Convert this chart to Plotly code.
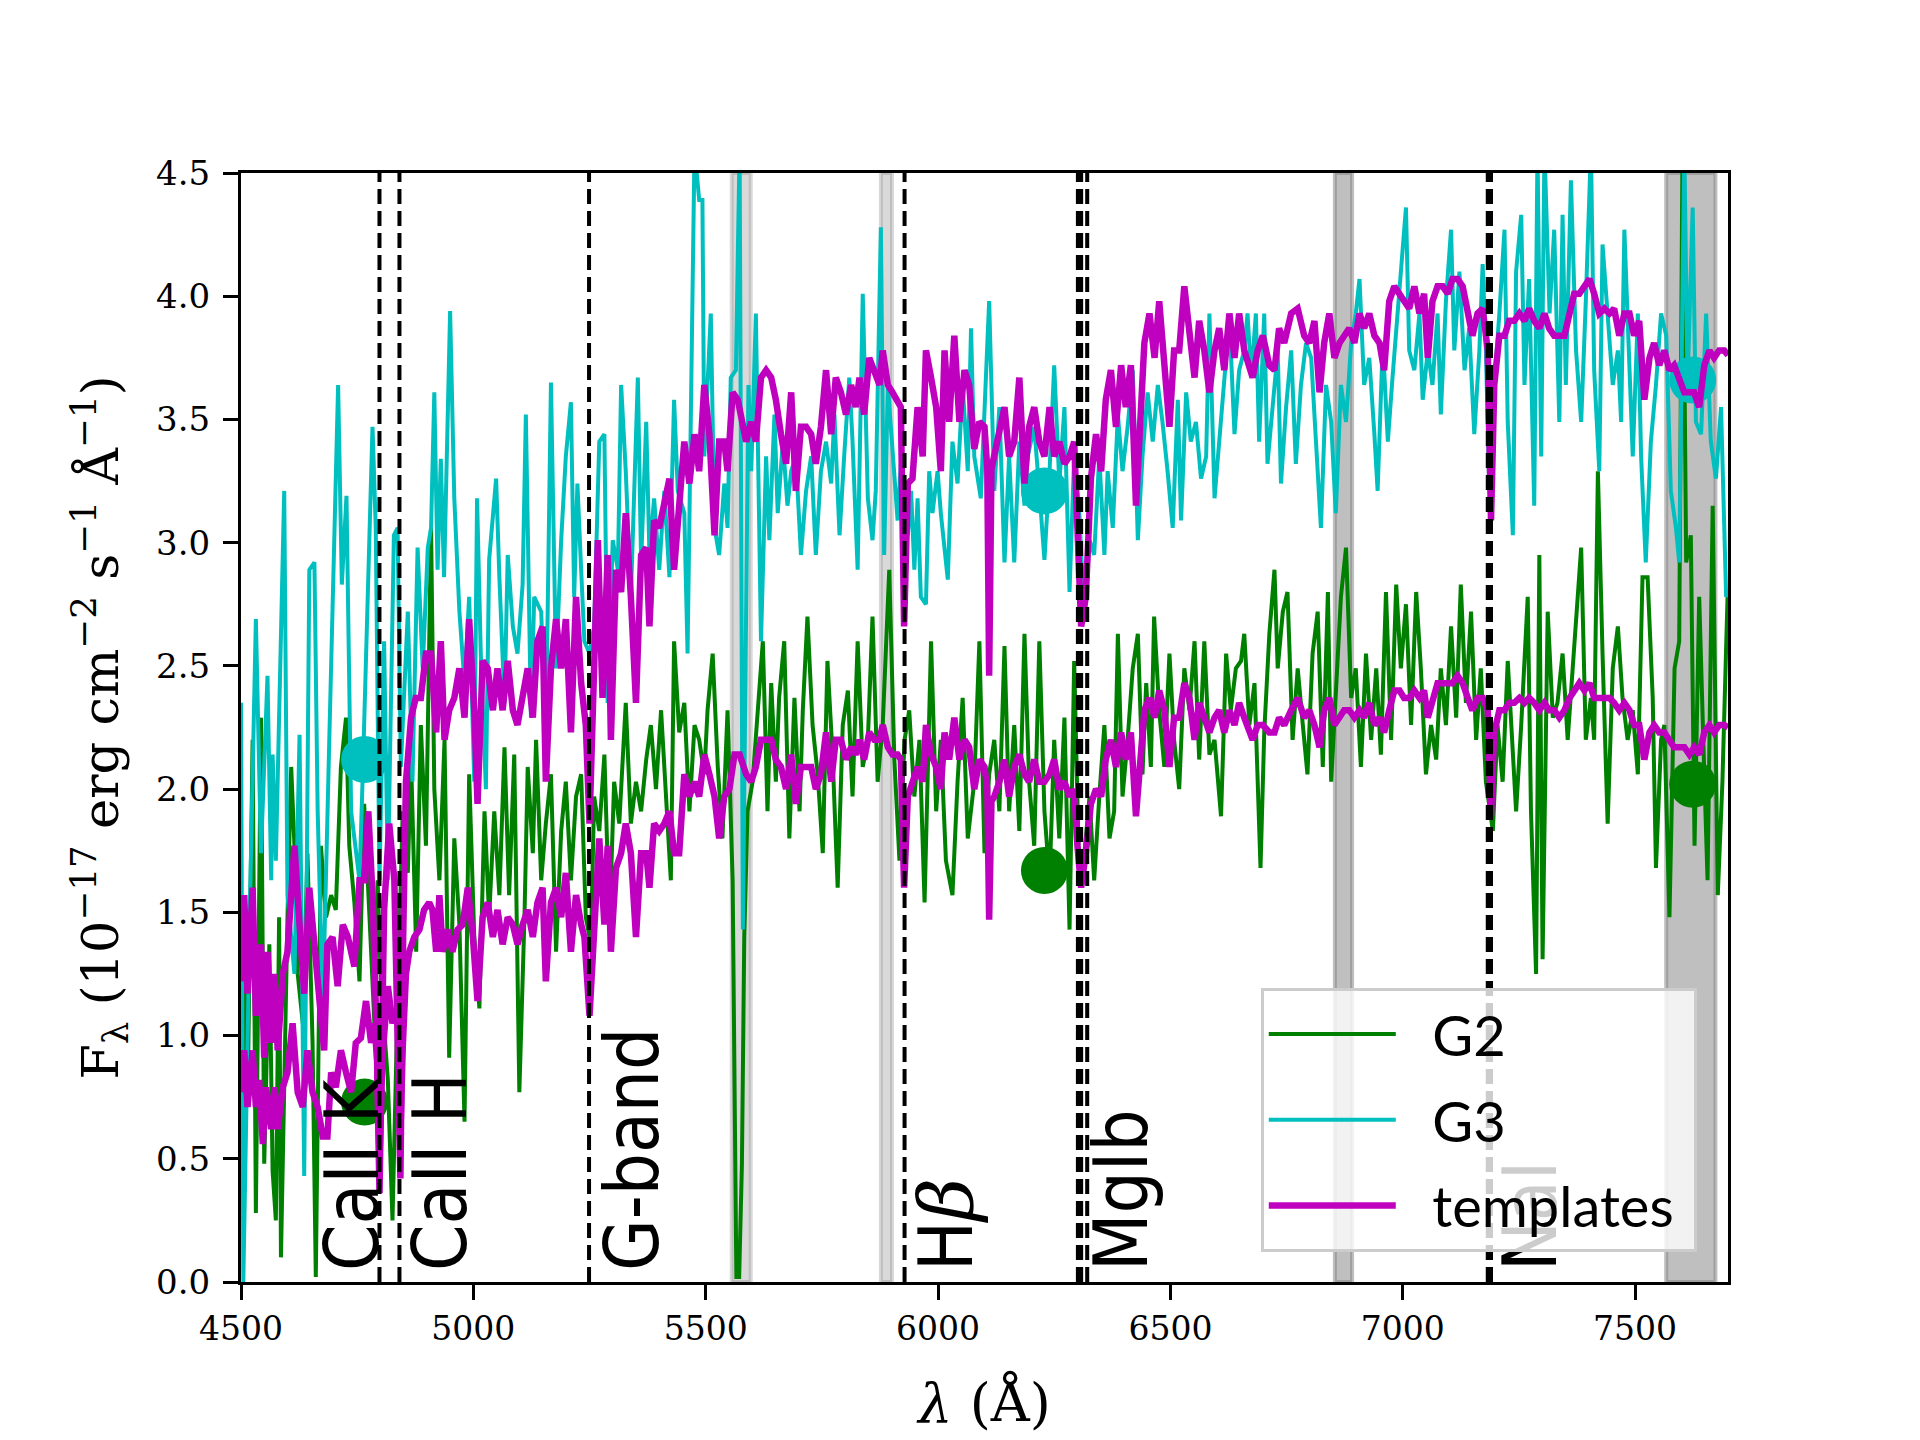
import plotly.graph_objects as go

# ---------------- data ----------------
# observed spectrum of G2: (wavelength [A], flux)
g2_obs = [(4500,0.54),(4507,1.3),(4514,0.71),(4525,2.2),(4532,0.28),(4543,2.29),(4550,0.48),(4561,1.37),(4568,0.45),(4575,0.25),
(4582,1.48),(4586,0.1),(4600,1.48),(4608,2.09),(4615,1.77),(4622,1.25),(4633,1.05),(4643,1.74),(4654,0.97),(4661,0.02),
(4672,1.77),(4683,1.48),(4694,1.57),(4704,1.51),(4715,2.09),(4726,2.29),(4733,1.77),(4744,1.54),(4755,1.22),(4765,1.94),
(4780,1.34),(4787,1.05),(4794,1.63),(4801,1.22),(4816,0.82),(4826,0.25),(4837,1.14),(4848,1.91),(4859,1.66),(4866,2.12),
(4877,1.34),(4887,2.26),(4898,1.77),(4909,3.06),(4916,2.0),(4927,1.63),(4938,2.2),(4948,0.91),(4959,1.8),(4970,1.45),
(4981,0.65),(4991,2.06),(5002,1.4),(5013,1.11),(5024,1.91),(5034,1.48),(5045,1.91),(5056,1.57),(5067,2.17),(5077,1.57),
(5088,2.14),(5099,0.77),(5110,1.48),(5117,2.09),(5128,1.74),(5135,2.2),(5146,1.63),(5156,1.86),(5167,2.06),(5178,1.34),
(5189,1.83),(5199,2.03),(5210,1.63),(5221,1.97),(5232,2.06),(5242,1.48),(5253,1.37),(5260,1.97),(5271,1.83),(5282,2.14),
(5293,1.45),(5303,2.03),(5314,1.86),(5328,2.35),(5339,1.86),(5350,2.03),(5361,1.91),(5372,2.12),(5382,2.26),(5393,2.0),
(5404,2.32),(5415,1.97),(5425,1.63),(5432,2.6),(5443,2.23),(5454,2.35),(5465,1.91),(5476,2.26),(5486,2.2),(5497,2.06),
(5504,2.32),(5515,2.55),(5526,2.09),(5536,1.8),(5547,2.32),(5558,1.63),(5566,0.02),(5572,0.02),(5578,0.48),(5583,1.4),
(5590,1.91),(5601,2.03),(5612,2.32),(5623,2.6),(5633,1.91),(5641,2.43),(5651,2.03),(5658,2.37),(5669,2.6),(5680,1.8),
(5691,2.37),(5702,1.91),(5709,2.32),(5719,2.7),(5730,2.26),(5741,2.06),(5752,1.74),(5762,2.52),(5773,2.14),(5784,1.6),
(5795,2.26),(5806,2.4),(5816,1.97),(5827,2.6),(5838,2.09),(5849,2.2),(5859,2.7),(5870,2.03),(5881,2.26),(5895,2.89),
(5906,2.12),(5917,1.71),(5928,2.2),(5938,2.32),(5949,1.97),(5960,2.2),(5971,1.54),(5985,2.6),(5996,1.91),(6006,2.2),
(6017,1.71),(6031,1.57),(6042,2.03),(6053,2.37),(6064,1.8),(6078,2.03),(6089,2.6),(6100,1.74),(6110,2.06),(6121,2.2),
(6132,1.91),(6143,2.58),(6153,1.91),(6164,2.26),(6175,1.83),(6186,2.63),(6196,2.03),(6207,1.77),(6218,2.6),(6229,1.91),
(6240,1.63),(6250,2.2),(6261,1.8),(6272,2.29),(6283,1.43),(6293,2.52),(6304,1.63),(6315,1.74),(6326,1.97),(6336,1.63),
(6347,1.97),(6358,2.26),(6369,1.8),(6379,1.91),(6387,2.63),(6397,1.97),(6408,2.2),(6419,2.49),(6430,2.63),(6440,2.06),
(6448,2.43),(6458,2.09),(6465,2.7),(6476,2.32),(6487,2.09),(6498,2.55),(6508,2.2),(6519,2.0),(6530,2.49),(6541,2.32),
(6552,2.6),(6562,2.12),(6573,2.6),(6584,2.14),(6595,2.2),(6609,1.89),(6620,2.55),(6630,2.32),(6641,2.49),(6652,2.52),
(6659,2.63),(6670,2.26),(6681,2.43),(6694,1.68),(6702,2.23),(6713,2.63),(6724,2.89),(6731,2.49),(6742,2.72),(6752,2.8),
(6763,2.2),(6774,2.49),(6785,2.26),(6795,2.06),(6806,2.55),(6817,2.72),(6828,2.09),(6839,2.8),(6846,2.03),(6856,2.4),
(6867,2.78),(6878,2.98),(6889,2.37),(6899,2.49),(6910,2.09),(6921,2.55),(6932,2.2),(6943,2.49),(6953,2.14),(6964,2.8),
(6975,2.2),(6986,2.83),(6996,2.49),(7007,2.75),(7018,2.26),(7029,2.8),(7039,2.49),(7050,2.06),(7061,2.26),(7072,2.12),
(7082,2.49),(7093,2.26),(7104,2.66),(7115,2.29),(7125,2.83),(7136,2.35),(7147,2.72),(7158,2.2),(7168,2.49),(7179,2.03),
(7194,1.83),(7204,2.26),(7215,2.03),(7226,2.52),(7237,2.12),(7244,1.91),(7255,2.26),(7269,2.78),(7276,1.91),(7287,1.25),
(7294,2.95),(7301,1.31),(7312,2.72),(7323,2.29),(7333,2.35),(7344,2.55),(7355,2.2),(7366,2.49),(7376,2.72),(7384,2.98),
(7394,2.2),(7405,2.37),(7412,2.2),(7420,3.29),(7430,2.55),(7441,1.86),(7452,2.49),(7463,2.66),(7473,2.37),(7484,2.2),
(7495,2.32),(7506,2.06),(7516,2.86),(7527,2.86),(7538,2.37),(7545,1.68),(7556,2.2),(7563,2.26),(7574,1.48),(7585,2.49),
(7595,2.6),(7602,4.6),(7610,2.92),(7620,3.03),(7628,1.77),(7638,2.78),(7649,2.06),(7656,1.63),(7667,3.15),(7678,1.57),
(7688,2.03),(7699,2.78)]

# observed spectrum of G3
g3_obs = [(4500,2.35),(4505,0.0),(4520,1.6),(4532,2.69),(4543,1.74),(4557,2.46),(4565,1.63),(4568,2.14),(4575,1.71),(4593,3.21),
(4600,1.57),(4615,1.25),(4626,2.22),(4636,0.43),(4647,2.89),(4658,2.92),(4665,1.91),(4676,1.11),(4690,2.2),(4709,3.64),
(4717,2.83),(4727,3.19),(4737,1.91),(4755,1.63),(4762,2.06),(4773,2.86),(4783,3.47),(4790,3.06),(4798,1.63),(4808,2.6),
(4816,1.63),(4829,3.03),(4837,3.06),(4844,2.09),(4859,2.72),(4869,2.03),(4880,2.98),(4891,2.49),(4902,2.98),(4909,3.06),
(4916,3.61),(4923,2.89),(4930,3.34),(4937,2.86),(4950,3.94),(4959,3.18),(4970,2.72),(4981,2.43),(4991,2.78),(5002,2.03),
(5008,3.18),(5016,2.55),(5027,2.0),(5034,2.93),(5049,3.26),(5056,2.86),(5067,2.35),(5074,2.95),(5085,2.66),(5095,2.55),
(5106,2.83),(5113,3.52),(5124,2.29),(5131,2.78),(5146,2.72),(5156,2.2),(5167,3.65),(5178,2.49),(5189,3.01),(5199,3.35),
(5210,3.57),(5217,2.78),(5224,3.24),(5232,2.89),(5239,2.6),(5250,2.55),(5260,2.66),(5271,3.41),(5282,3.44),(5289,2.35),
(5300,3.01),(5311,2.89),(5318,3.64),(5328,3.29),(5339,2.78),(5354,3.67),(5361,2.92),(5372,3.49),(5379,2.95),(5389,3.18),
(5400,2.89),(5411,3.21),(5422,2.86),(5432,3.58),(5440,3.21),(5454,3.12),(5461,2.55),(5476,4.6),(5486,4.39),(5493,4.39),
(5497,3.35),(5511,3.93),(5519,3.06),(5529,2.95),(5540,3.24),(5547,3.06),(5554,3.67),(5565,3.7),(5573,4.6),(5580,1.43),
(5586,2.37),(5592,3.64),(5598,3.29),(5608,3.93),(5619,2.6),(5630,3.35),(5637,3.01),(5648,3.52),(5655,3.12),(5666,3.41),
(5676,3.15),(5684,3.29),(5694,3.35),(5705,2.95),(5716,3.21),(5727,3.35),(5737,2.95),(5748,3.29),(5759,3.41),(5770,3.24),
(5777,3.52),(5788,3.03),(5798,3.35),(5809,3.67),(5816,3.41),(5827,2.89),(5838,4.01),(5849,3.18),(5859,3.01),(5866,3.21),
(5877,4.28),(5884,2.95),(5892,3.64),(5902,3.35),(5913,3.09),(5920,3.32),(5928,3.24),(5935,3.03),(5942,3.21),(5949,2.89),
(5956,3.18),(5963,2.78),(5974,2.75),(5981,3.29),(5988,3.12),(5999,3.29),(6006,3.12),(6021,2.85),(6031,3.41),(6042,3.24),
(6053,3.64),(6064,3.29),(6071,3.87),(6078,3.35),(6092,3.18),(6110,3.98),(6121,3.21),(6132,3.55),(6143,2.92),(6153,3.35),
(6164,2.92),(6175,3.41),(6186,3.15),(6193,3.35),(6207,3.47),(6218,3.21),(6229,2.93),(6240,3.29),(6250,3.72),(6261,3.24),
(6272,3.55),(6283,2.8),(6293,3.35),(6304,3.12),(6315,2.69),(6326,3.01),(6336,2.95),(6347,3.35),(6358,2.95),(6365,3.29),
(6376,3.06),(6387,3.52),(6397,3.29),(6408,3.47),(6419,3.7),(6430,3.01),(6440,3.35),(6451,3.61),(6462,3.41),(6473,3.64),
(6483,3.49),(6494,3.29),(6505,3.06),(6516,3.58),(6523,3.09),(6534,3.61),(6544,3.41),(6555,3.49),(6566,3.26),(6577,3.35),
(6584,3.93),(6595,3.18),(6605,3.41),(6616,3.64),(6627,3.91),(6638,3.44),(6648,3.7),(6659,3.78),(6666,3.93),(6674,3.67),
(6684,3.93),(6691,3.41),(6702,3.93),(6709,3.32),(6720,3.55),(6731,3.78),(6738,3.24),(6749,3.55),(6760,3.78),(6770,3.32),
(6781,3.64),(6792,3.81),(6803,3.75),(6813,3.41),(6824,3.06),(6835,3.64),(6846,3.49),(6856,3.12),(6867,3.64),(6878,3.49),
(6889,3.81),(6899,3.93),(6907,4.07),(6917,3.64),(6928,3.75),(6939,3.44),(6946,3.21),(6957,3.81),(6968,3.41),(6978,3.67),
(6989,3.93),(6999,4.13),(7007,4.36),(7014,3.78),(7025,3.7),(7036,3.93),(7043,3.58),(7054,3.78),(7064,3.64),(7075,3.93),
(7082,3.52),(7093,3.98),(7104,4.27),(7111,3.78),(7122,4.1),(7133,3.7),(7143,3.87),(7154,3.44),(7165,3.78),(7172,4.13),
(7179,3.78),(7186,3.24),(7197,3.64),(7208,3.93),(7219,4.27),(7226,3.49),(7237,3.03),(7244,4.1),(7255,4.33),(7262,3.64),
(7272,4.07),(7283,3.15),(7290,4.6),(7298,3.35),(7305,4.6),(7316,3.93),(7326,4.27),(7337,3.49),(7344,4.33),(7351,3.64),
(7362,4.47),(7373,3.78),(7384,3.49),(7394,3.98),(7405,4.6),(7412,3.7),(7423,3.29),(7430,4.21),(7441,3.93),(7452,3.64),
(7463,3.78),(7470,3.49),(7477,4.27),(7488,3.7),(7495,3.35),(7506,3.93),(7513,3.35),(7523,2.92),(7534,3.41),(7545,3.64),
(7556,3.93),(7567,3.84),(7577,3.21),(7588,3.06),(7595,2.92),(7606,4.6),(7613,3.64),(7624,4.36),(7631,3.49),(7642,3.44),
(7653,3.93),(7663,3.41),(7674,3.26),(7685,3.55),(7696,2.78),(7700,2.8)]

# best-fit template matched to G2
tmpl_g2 = [(4500,0.77),(4507,0.94),(4514,0.71),(4525,0.94),(4532,0.71),(4539,0.82),(4547,0.56),(4554,0.79),(4565,0.62),(4572,0.79),
(4579,0.62),(4590,0.79),(4600,0.85),(4611,1.05),(4622,0.77),(4633,0.71),(4643,0.94),(4654,0.77),(4665,0.71),(4676,0.59),
(4686,0.59),(4694,0.85),(4704,0.79),(4715,0.94),(4726,0.85),(4737,0.77),(4747,0.97),(4758,0.99),(4769,1.14),(4780,0.97),
(4787,1.05),(4793,0.9),(4798,0.5),(4804,0.9),(4816,1.2),(4826,1.05),(4837,1.11),(4843,0.6),(4848,0.95),(4855,1.25),
(4862,1.34),(4873,1.4),(4884,1.43),(4894,1.51),(4905,1.54),(4912,1.51),(4920,1.34),(4927,1.57),(4934,1.34),(4945,1.43),
(4955,1.34),(4966,1.43),(4977,1.45),(4988,1.6),(4999,1.4),(5009,1.14),(5020,1.48),(5031,1.54),(5042,1.4),(5052,1.51),
(5063,1.37),(5074,1.48),(5085,1.45),(5095,1.37),(5106,1.45),(5117,1.51),(5128,1.4),(5138,1.54),(5149,1.6),(5156,1.22),
(5167,1.54),(5178,1.6),(5189,1.48),(5199,1.66),(5210,1.34),(5221,1.57),(5232,1.45),(5239,1.4),(5250,1.08),(5260,1.48),
(5271,1.8),(5282,1.45),(5289,1.77),(5296,1.34),(5307,1.68),(5318,1.74),(5328,1.86),(5339,1.74),(5350,1.4),(5361,1.74),
(5372,1.74),(5379,1.6),(5389,1.86),(5400,1.83),(5411,1.86),(5422,1.91),(5432,1.74),(5443,1.74),(5454,2.06),(5465,1.97),
(5476,2.03),(5486,1.97),(5497,2.14),(5508,2.06),(5519,1.97),(5529,1.8),(5540,1.97),(5551,2.0),(5562,2.14),(5573,2.14),
(5587,2.06),(5598,2.03),(5608,2.09),(5619,2.2),(5630,2.2),(5641,2.2),(5651,2.12),(5662,2.09),(5673,2.0),(5684,2.14),
(5694,1.94),(5705,2.09),(5716,2.09),(5727,2.09),(5737,2.0),(5748,2.06),(5759,2.23),(5770,2.03),(5780,2.2),(5791,2.2),
(5802,2.12),(5813,2.17),(5823,2.14),(5831,2.2),(5841,2.12),(5852,2.23),(5863,2.2),(5874,2.2),(5881,2.26),(5892,2.17),
(5902,2.14),(5913,2.14),(5920,2.12),(5927,1.6),(5935,1.97),(5945,2.03),(5956,2.09),(5967,2.03),(5974,2.26),(5985,2.14),
(5996,2.09),(6006,2.0),(6014,2.23),(6024,2.12),(6035,2.29),(6046,2.12),(6057,2.2),(6067,2.17),(6078,2.0),(6089,2.12),
(6100,2.09),(6106,2.0),(6110,1.47),(6115,1.95),(6121,1.97),(6132,2.03),(6143,2.12),(6153,1.97),(6164,2.09),(6175,2.14),
(6186,2.06),(6196,2.03),(6207,2.12),(6218,2.03),(6229,2.03),(6240,2.06),(6250,2.12),(6261,2.0),(6272,2.03),(6283,1.97),
(6293,2.0),(6300,1.77),(6308,1.6),(6318,1.74),(6329,1.94),(6340,2.0),(6351,1.97),(6361,2.12),(6372,2.2),(6383,2.09),
(6394,2.23),(6404,2.12),(6415,2.23),(6426,1.89),(6437,2.2),(6444,2.32),(6455,2.37),(6466,2.29),(6476,2.4),(6487,2.32),
(6498,2.09),(6508,2.29),(6519,2.29),(6530,2.43),(6541,2.37),(6552,2.2),(6562,2.35),(6573,2.29),(6584,2.23),(6595,2.29),
(6605,2.32),(6616,2.23),(6627,2.32),(6638,2.26),(6648,2.35),(6659,2.29),(6677,2.2),(6688,2.26),(6699,2.26),(6713,2.23),
(6724,2.23),(6734,2.29),(6745,2.26),(6760,2.32),(6774,2.37),(6788,2.29),(6799,2.32),(6810,2.26),(6821,2.17),(6831,2.32),
(6842,2.37),(6853,2.26),(6864,2.29),(6874,2.32),(6885,2.32),(6896,2.29),(6907,2.32),(6917,2.29),(6928,2.35),(6939,2.26),
(6950,2.29),(6960,2.23),(6971,2.32),(6982,2.4),(6993,2.4),(7003,2.37),(7014,2.37),(7025,2.4),(7036,2.37),(7046,2.4),
(7054,2.29),(7064,2.37),(7075,2.43),(7086,2.43),(7097,2.43),(7107,2.43),(7118,2.46),(7129,2.43),(7140,2.37),(7150,2.32),
(7161,2.37),(7172,2.37),(7183,2.32),(7187,2.1),(7190,1.89),(7194,2.1),(7197,2.23),(7208,2.32),(7219,2.32),(7229,2.35),
(7240,2.35),(7251,2.37),(7262,2.35),(7272,2.37),(7283,2.35),(7294,2.32),(7305,2.35),(7315,2.32),(7326,2.32),(7337,2.29),
(7348,2.32),(7359,2.37),(7369,2.4),(7380,2.43),(7391,2.4),(7402,2.43),(7412,2.37),(7423,2.37),(7434,2.37),(7445,2.37),
(7455,2.35),(7466,2.32),(7477,2.35),(7488,2.32),(7498,2.26),(7509,2.26),(7520,2.12),(7531,2.23),(7541,2.26),(7552,2.23),
(7563,2.23),(7574,2.2),(7584,2.17),(7595,2.17),(7606,2.17),(7617,2.14),(7627,2.17),(7638,2.14),(7649,2.23),(7660,2.26),
(7670,2.23),(7681,2.26),(7692,2.26),(7700,2.25)]

# best-fit template matched to G3
tmpl_g3 = [(4500,1.22),(4507,1.57),(4514,1.17),(4525,1.6),(4532,1.08),(4543,1.37),(4550,0.91),(4557,1.34),(4565,0.97),(4572,1.25),
(4579,0.94),(4590,1.25),(4600,1.34),(4615,1.77),(4626,1.45),(4636,1.17),(4647,1.6),(4658,1.34),(4669,1.14),(4679,0.94),
(4686,1.37),(4697,1.4),(4708,1.2),(4719,1.45),(4730,1.4),(4744,1.28),(4755,1.63),(4765,1.63),(4774,1.91),(4783,1.57),
(4792,1.0),(4798,0.36),(4804,1.0),(4808,1.51),(4819,1.86),(4830,1.63),(4838,0.9),(4843,0.42),(4849,1.4),(4855,2.03),
(4866,2.29),(4876,2.37),(4887,2.37),(4898,2.55),(4909,2.55),(4920,2.23),(4930,2.6),(4938,2.2),(4948,2.32),(4959,2.37),
(4970,2.49),(4981,2.29),(4991,2.69),(5002,2.32),(5009,1.94),(5020,2.52),(5031,2.49),(5042,2.32),(5052,2.49),(5063,2.32),
(5074,2.52),(5085,2.32),(5095,2.26),(5106,2.37),(5117,2.49),(5128,2.29),(5138,2.6),(5149,2.66),(5156,2.03),(5167,2.49),
(5178,2.69),(5189,2.49),(5199,2.69),(5210,2.23),(5221,2.78),(5232,2.43),(5242,2.26),(5250,1.86),(5260,2.55),(5268,3.01),
(5278,2.37),(5289,2.95),(5296,2.2),(5307,2.89),(5318,2.8),(5328,3.12),(5339,2.78),(5350,2.35),(5361,2.95),(5372,2.98),
(5379,2.66),(5389,3.09),(5400,3.06),(5411,3.15),(5422,3.26),(5432,2.89),(5443,3.15),(5454,3.41),(5465,3.24),(5476,3.44),
(5486,3.29),(5497,3.64),(5508,3.44),(5519,3.03),(5529,3.41),(5540,3.41),(5547,3.29),(5558,3.61),(5569,3.58),(5576,3.5),
(5587,3.41),(5598,3.49),(5608,3.41),(5619,3.67),(5630,3.7),(5641,3.67),(5651,3.58),(5662,3.44),(5673,3.32),(5684,3.61),
(5694,3.21),(5705,3.47),(5716,3.47),(5727,3.44),(5737,3.32),(5748,3.47),(5759,3.7),(5770,3.44),(5780,3.67),(5791,3.61),
(5802,3.52),(5813,3.64),(5823,3.55),(5831,3.67),(5841,3.52),(5852,3.75),(5863,3.7),(5874,3.64),(5881,3.78),(5892,3.64),
(5902,3.61),(5913,3.58),(5920,3.55),(5927,2.66),(5935,3.24),(5945,3.26),(5956,3.55),(5967,3.35),(5974,3.78),(5985,3.67),
(5996,3.55),(6006,3.29),(6014,3.78),(6024,3.49),(6035,3.84),(6046,3.49),(6057,3.7),(6067,3.64),(6078,3.38),(6089,3.49),
(6100,3.47),(6106,3.3),(6110,2.46),(6115,3.3),(6121,3.35),(6132,3.47),(6143,3.55),(6153,3.35),(6164,3.41),(6175,3.67),
(6186,3.24),(6196,3.47),(6207,3.55),(6218,3.41),(6229,3.35),(6240,3.55),(6250,3.35),(6261,3.41),(6272,3.32),(6283,3.35),
(6293,3.41),(6300,3.06),(6308,2.66),(6318,2.78),(6329,3.26),(6340,3.44),(6351,3.29),(6361,3.58),(6372,3.7),(6383,3.47),
(6394,3.72),(6404,3.55),(6415,3.72),(6426,3.15),(6437,3.49),(6444,3.81),(6455,3.93),(6466,3.75),(6476,3.98),(6487,3.72),
(6498,3.47),(6508,3.78),(6519,3.78),(6530,4.04),(6541,3.87),(6552,3.67),(6562,3.9),(6573,3.78),(6584,3.61),(6595,3.78),
(6605,3.87),(6616,3.7),(6627,3.93),(6638,3.75),(6648,3.93),(6659,3.78),(6677,3.67),(6688,3.78),(6699,3.84),(6713,3.72),
(6724,3.7),(6734,3.87),(6745,3.81),(6760,3.93),(6774,3.95),(6788,3.84),(6799,3.81),(6810,3.9),(6821,3.61),(6831,3.81),
(6842,3.93),(6853,3.75),(6864,3.81),(6874,3.84),(6885,3.87),(6896,3.81),(6907,3.93),(6917,3.87),(6928,3.93),(6939,3.84),
(6950,3.81),(6960,3.7),(6971,3.98),(6982,4.04),(6993,4.01),(7003,3.98),(7014,3.95),(7025,4.04),(7036,3.93),(7046,4.01),
(7054,3.75),(7064,3.98),(7075,4.04),(7086,4.04),(7097,4.01),(7107,4.07),(7118,4.07),(7129,4.04),(7140,3.93),(7150,3.84),
(7161,3.93),(7172,3.95),(7183,3.78),(7187,3.4),(7190,3.09),(7194,3.4),(7197,3.64),(7208,3.84),(7219,3.84),(7229,3.9),
(7240,3.9),(7251,3.93),(7262,3.9),(7272,3.95),(7283,3.9),(7294,3.87),(7305,3.93),(7315,3.87),(7326,3.84),(7337,3.84),
(7348,3.84),(7359,3.93),(7369,4.01),(7380,4.01),(7391,4.04),(7402,4.07),(7412,4.01),(7423,3.93),(7434,3.95),(7445,3.93),
(7455,3.95),(7466,3.84),(7477,3.93),(7488,3.93),(7498,3.84),(7509,3.9),(7520,3.58),(7531,3.75),(7541,3.81),(7552,3.72),
(7563,3.78),(7574,3.7),(7584,3.72),(7595,3.67),(7606,3.61),(7617,3.61),(7627,3.61),(7638,3.55),(7649,3.72),(7660,3.78),
(7670,3.75),(7681,3.78),(7692,3.78),(7700,3.76)]

# broad-band photometry points
phot_wave = [4766, 6229, 7624]
phot_g2 = [0.73, 1.67, 2.02]
phot_g3 = [2.12, 3.21, 3.66]

# absorption features (observed wavelengths) and their labels
feature_names = ["CaII K", "CaII H", "G-band",
                 "H<span style=\"font-family:'DejaVu Serif'\"><i>β</i></span>", "MgIb", "NaI"]
feature_waves = [[4798], [4841], [5249], [5928], [6301, 6308, 6321], [7183, 7190]]
feature_label_waves = [4728, 4918, 5330, 6006, 6383, 7263]

# masked regions (sky lines, telluric bands)
sky_bands = [(5556, 5597), (5877, 5901)]
telluric_bands = [(6854, 6891), (7567, 7673)]

# legend entries
legend_names = ["G2", "G3", "templates"]

# ---------------- figure ----------------
GREEN = "#008000"
CYAN = "#00bfbf"
MAGENTA = "#bf00bf"
SERIF = "DejaVu Serif"
LABEL_FONT = "Liberation Sans Narrow, Arial Narrow, DejaVu Sans Condensed, Liberation Sans, sans-serif"
LEAD = "\u2002\u200a"     # gap between legend line sample and its text
TRAIL = "\u00a0"          # right padding inside the legend box


def split(pairs):
    return [p[0] for p in pairs], [p[1] for p in pairs]


fig = go.Figure()

wx, fy = split(g2_obs)
fig.add_trace(go.Scatter(x=wx, y=fy, mode="lines", name=LEAD + legend_names[0] + TRAIL,
                         legendgroup="g2", line=dict(color=GREEN, width=4)))
wx, fy = split(g3_obs)
fig.add_trace(go.Scatter(x=wx, y=fy, mode="lines", name=LEAD + legend_names[1] + TRAIL,
                         legendgroup="g3", line=dict(color=CYAN, width=4)))
fig.add_trace(go.Scatter(x=phot_wave, y=phot_g2, mode="markers", showlegend=False,
                         marker=dict(color=GREEN, size=47, line=dict(width=0))))
fig.add_trace(go.Scatter(x=phot_wave, y=phot_g3, mode="markers", showlegend=False,
                         marker=dict(color=CYAN, size=47, line=dict(width=0))))
wx, fy = split(tmpl_g2)
fig.add_trace(go.Scatter(x=wx, y=fy, mode="lines", name=LEAD + legend_names[2] + TRAIL,
                         legendgroup="tmpl", line=dict(color=MAGENTA, width=6.5)))
wx, fy = split(tmpl_g3)
fig.add_trace(go.Scatter(x=wx, y=fy, mode="lines", name=legend_names[2], legendgroup="tmpl",
                         showlegend=False, line=dict(color=MAGENTA, width=6.5)))

shapes = []
for (a, b) in sky_bands:
    shapes.append(dict(type="rect", xref="x", yref="paper", x0=a, x1=b, y0=0, y1=1,
                       fillcolor="rgba(128,128,128,0.3)", layer="below",
                       line=dict(color="rgba(128,128,128,0.3)", width=4)))
for (a, b) in telluric_bands:
    shapes.append(dict(type="rect", xref="x", yref="paper", x0=a, x1=b, y0=0, y1=1,
                       fillcolor="rgba(128,128,128,0.5)", layer="below",
                       line=dict(color="rgba(128,128,128,0.5)", width=4)))
for waves in feature_waves:
    for w in waves:
        shapes.append(dict(type="line", xref="x", yref="paper", x0=w, x1=w, y0=0, y1=1,
                           layer="above", line=dict(color="black", width=4, dash="15px,7px")))
for name, lw in zip(feature_names, feature_label_waves):
    shapes.append(dict(type="line", xref="x", yref="y", x0=lw, x1=lw, y0=0.045, y1=4.4,
                       layer="above", line=dict(color="rgba(0,0,0,0)", width=1),
                       label=dict(text=name, textposition="start", textangle=-90,
                                  xanchor="left", yanchor="middle", padding=0,
                                  font=dict(family=LABEL_FONT, size=74, color="black"))))

fig.update_layout(
    width=1920, height=1440,
    margin=dict(l=241, r=192, t=173, b=158),
    paper_bgcolor="white", plot_bgcolor="white",
    shapes=shapes,
    showlegend=True,
    legend=dict(x=0.979, xanchor="right", y=0.027, yanchor="bottom",
                bgcolor="rgba(255,255,255,0.8)", bordercolor="#cccccc", borderwidth=3,
                font=dict(family="Lato", size=56, color="black"),
                itemwidth=127, tracegroupgap=10),
    xaxis=dict(range=[4500, 7700], tickvals=[4500, 5000, 5500, 6000, 6500, 7000, 7500],
               ticks="outside", ticklen=15, tickwidth=3, tickcolor="black",
               showline=True, linewidth=3, linecolor="black", mirror=True,
               showgrid=False, zeroline=False,
               tickfont=dict(family=SERIF, size=33, color="black"),
               title=dict(text="<i>λ</i> (Å)", font=dict(family=SERIF, size=54, color="black"),
                          standoff=38)),
    yaxis=dict(range=[0, 4.5], dtick=0.5, tick0=0, tickformat=".1f",
               ticks="outside", ticklen=15, tickwidth=3, tickcolor="black",
               showline=True, linewidth=3, linecolor="black", mirror=True,
               showgrid=False, zeroline=False, ticklabelstandoff=6,
               tickfont=dict(family=SERIF, size=34, color="black"),
               title=dict(text="F<sub>λ</sub> (10<sup>−17</sup> erg cm<sup>−2</sup> s<sup>−1</sup> Å<sup>−1</sup>)",
                          font=dict(family=SERIF, size=51, color="black"), standoff=22)),
)

fig.write_html("out.html")
